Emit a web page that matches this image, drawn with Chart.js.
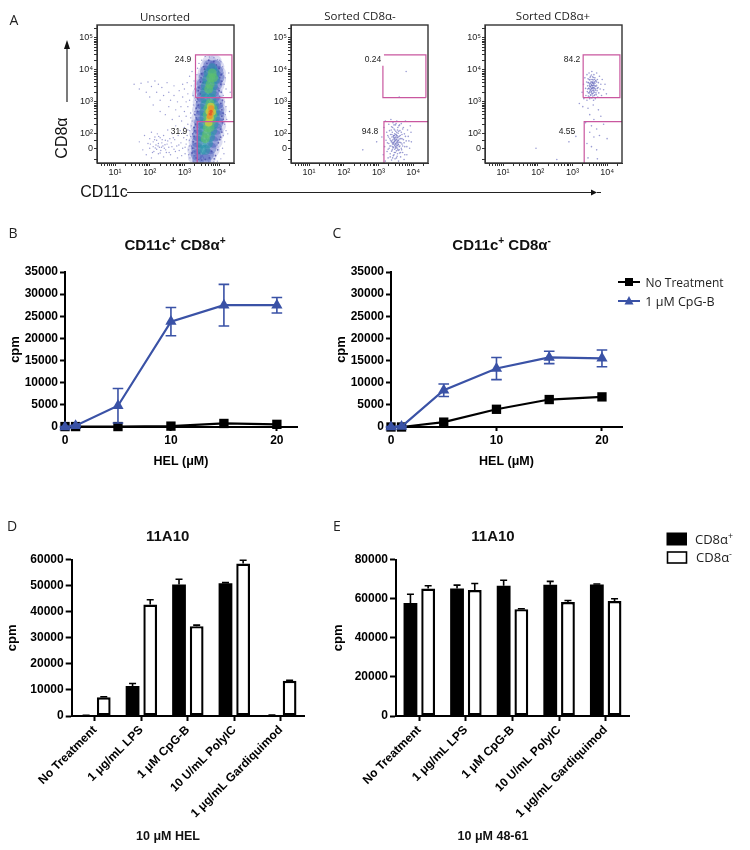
<!DOCTYPE html>
<html>
<head>
<meta charset="utf-8">
<title>CD8a sort and proliferation</title>
<script src="https://cdn.jsdelivr.net/npm/chart.js"></script>
<style>
  body { margin: 0; background: #fff; }
  #page { position: relative; width: 750px; height: 850px; overflow: hidden; filter: blur(0.3px); }
  #page canvas { position: absolute; }
  #page canvas.flowplot { filter: blur(0.35px); }
  #page svg { position: absolute; left: 0; top: 0; }
  .lbl { position: absolute; transform: translate(-50%, -50%); white-space: nowrap; color: #111; }
  .lbl sup { font-size: 68%; line-height: 0; }
  .bold { font-family: "Liberation Sans", sans-serif; font-weight: bold; }
  .soft { font-family: "Open Sans", sans-serif; color: #222; }
  .flow { font-family: "Liberation Sans", sans-serif; font-size: 8.5px; color: #222; }
</style>
</head>
<body>
<div id="page">
  <svg width="750" height="850">
    <!-- flow axis arrows -->
    <line x1="67" y1="102" x2="67" y2="46" stroke="#222" stroke-width="1.2"/>
    <polygon points="67,40 64,49 70,49" fill="#111"/>
    <line x1="127" y1="192.5" x2="592" y2="192.5" stroke="#222" stroke-width="1.2"/>
    <polygon points="597,192.5 591,189.5 591,195.5" fill="#111"/>
    <line x1="597" y1="192.5" x2="601" y2="192.5" stroke="#222" stroke-width="1"/>
    <!-- legend of panel C -->
    <line x1="618" y1="282" x2="640" y2="282" stroke="#000" stroke-width="2"/>
    <rect x="625" y="278" width="8" height="8" fill="#000"/>
    <line x1="618" y1="301" x2="640" y2="301" stroke="#3a52a6" stroke-width="2"/>
    <polygon points="629,296 624.5,304.5 633.5,304.5" fill="#3a52a6"/>
    <!-- legend of panel E -->
    <rect x="667" y="533" width="19.5" height="12" fill="#000" stroke="#000" stroke-width="1"/>
    <rect x="667.5" y="552" width="19" height="11" fill="#fff" stroke="#000" stroke-width="1.6"/>
  </svg>
</div>
<script>
// flow plots, axes in decades
const flowMinor = [0.3, 0.48, 0.6, 0.7, 0.78, 0.85, 0.9, 0.95];
const flowXLabels = { 1: '10¹', 2: '10²', 3: '10³', 4: '10⁴' };
const flowYLabels = { 1.53: '0', 2: '10²', 3: '10³', 4: '10⁴', 5: '10⁵' };

const unsortedSparse = [
  [1.7,1.75],[1.8,1.5],[1.85,1.95],[1.9,1.35],[1.95,1.7],[2.0,1.55],[2.0,1.85],[2.05,1.25],[2.05,2.05],[2.1,1.6],
  [2.1,1.75],[2.12,1.45],[2.15,1.9],[2.18,1.65],[2.2,1.52],[2.2,1.8],[2.22,2.0],[2.25,1.38],[2.25,1.7],[2.28,1.58],
  [2.3,1.88],[2.32,1.48],[2.35,1.72],[2.38,1.62],[2.4,1.28],[2.4,1.95],[2.42,1.55],[2.45,1.8],[2.48,1.42],[2.5,1.68],
  [2.52,2.12],[2.55,1.58],[2.58,1.85],[2.6,1.35],[2.62,1.72],[2.65,2.0],[2.7,1.52],[2.72,1.82],[2.75,2.25],[2.78,1.62],
  [2.8,1.25],[2.82,1.95],[2.85,1.48],[2.88,2.1],[2.9,1.72],[2.92,2.4],[2.95,1.55],[2.98,1.88],[3.0,2.2],[3.02,1.38],
  [3.05,1.68],[3.05,2.55],[3.08,1.95],[3.1,2.3],[3.12,1.5],[3.14,1.8],[3.15,2.1],[3.16,1.25],[3.18,2.5],[3.2,1.62],
  [1.55,3.55],[1.7,3.4],[1.75,3.58],[1.9,3.3],[1.95,3.62],[2.0,3.15],[2.05,3.48],[2.1,2.9],[2.15,3.65],[2.2,3.3],
  [2.25,3.55],[2.3,3.05],[2.3,2.7],[2.35,3.45],[2.4,3.2],[2.45,2.6],[2.5,3.6],[2.55,3.3],[2.55,2.85],[2.6,3.05],
  [2.65,2.45],[2.7,3.5],[2.7,3.2],[2.75,2.75],[2.8,3.0],[2.85,3.35],[2.85,2.55],[2.9,2.85],[2.95,3.15],[2.95,3.55],
  [3.0,2.7],[3.0,3.4],[3.05,3.0],[3.08,3.6],[3.1,2.85],[3.1,3.25],[3.15,3.8],[3.15,3.05],[3.18,2.65],[3.2,3.5],
  [3.22,2.4],[3.22,3.95],[3.25,3.2],[3.26,2.9],[3.28,3.65],[3.28,2.2],[3.3,3.4],[3.3,1.45],[3.3,2.7],[3.32,3.05],
  [3.25,1.15],[3.28,1.32],[3.32,1.7],[3.34,2.05],[3.36,2.45],[3.36,3.85],[3.38,4.05],[3.4,1.2],[3.42,4.2],[3.5,4.3],
  [3.6,4.42],[3.72,4.4],[3.85,4.38],[3.95,4.32],[4.05,4.25],[4.1,4.1],[4.12,3.9],[4.18,3.75],[4.15,3.55],[4.2,3.4],
  [4.12,3.2],[4.15,3.0],[4.2,2.85],[4.18,2.6],[4.22,2.45],[4.16,2.3],[4.2,2.1],[4.12,1.95],[4.16,1.75],[4.1,1.55],
  [4.14,1.38],[4.05,1.22],[3.95,1.15],[4.3,2.7],[4.32,3.3],[4.28,3.9],[4.02,4.3],[4.25,2.0],[3.85,1.12],[3.7,1.12],
  [2.02,1.68],[2.08,1.42],[2.14,1.82],[2.16,1.56],[2.24,1.62],[2.26,1.92],[2.3,1.4],[2.34,1.58],[2.36,1.82],[2.44,1.66],
  [2.46,1.5],[2.52,1.78],[2.56,1.42],[2.64,1.6],[2.68,1.88],[2.74,1.45],[2.84,1.65],[2.92,1.32],[2.96,2.02],[3.02,1.58],
  [3.06,1.82],[3.1,2.12],[3.12,1.35],[3.14,1.62],[3.18,1.92],[3.2,2.25],[3.22,1.42],[3.24,1.75],[3.26,2.05],[3.28,1.55]
];
const unsortedSpeck = [
  [3.55,4.1],[3.6,3.95],[3.65,4.2],[3.92,4.15],[3.98,3.95],[3.48,3.75],[3.54,3.6],[4.02,3.75],[4.05,3.55],[3.42,3.45],
  [3.46,3.25],[4.0,3.35],[4.02,3.15],[3.38,3.1],[3.4,2.9],[4.05,2.95],[4.08,2.75],[3.38,2.7],[3.34,2.5],[4.08,2.55],
  [4.1,2.35],[3.32,2.3],[3.3,2.1],[4.04,2.15],[4.05,1.9],[3.28,1.92],[3.26,1.75],[3.98,1.72],[3.96,1.5],[3.24,1.55],
  [3.22,1.4],[3.9,1.32],[3.86,1.22],[3.34,1.25],[3.5,1.18],[3.6,1.2],[3.72,1.25],[3.44,1.4],[3.78,1.45],[3.38,1.62],
  [3.7,4.3],[3.85,4.26],[3.58,4.02],[4.0,4.05],[3.5,3.88],[4.06,3.85],[3.46,3.62],[4.08,3.65],[3.4,3.35],[4.06,3.3],
  [3.36,3.0],[4.1,3.05],[3.34,2.8],[4.12,2.65],[3.3,2.6],[4.12,2.45],[3.28,2.2],[4.08,2.05],[3.24,2.0],[4.02,1.82]
];
const unsortedHalo = [
  [3.72,4.25],[3.88,4.25],[3.65,4.1],[3.95,4.1],[3.58,3.9],[4.0,3.9],[3.5,3.7],[4.0,3.7],[3.46,3.5],[3.95,3.5],
  [3.42,3.25],[3.92,3.25],[3.44,3.0],[3.98,3.0],[3.42,2.75],[4.02,2.75],[3.4,2.5],[4.02,2.5],[3.36,2.25],[4.0,2.25],
  [3.34,2.0],[3.95,2.0],[3.32,1.75],[3.9,1.75],[3.28,1.5],[3.82,1.5],[3.3,1.28],[3.72,1.28]
];
const unsortedBlue = [
  [3.72,4.13],[3.88,4.13],[3.62,3.95],[3.95,3.95],[3.58,3.75],[3.98,3.75],[3.52,3.55],[3.92,3.55],[3.5,3.35],[3.85,3.35],
  [3.52,3.15],[3.85,3.15],[3.5,2.95],[3.95,2.95],[3.48,2.75],[3.98,2.75],[3.48,2.55],[3.98,2.55],[3.45,2.35],[3.95,2.35],
  [3.42,2.15],[3.92,2.15],[3.4,1.95],[3.88,1.95],[3.38,1.75],[3.82,1.75],[3.36,1.55],[3.75,1.55],[3.36,1.35],[3.68,1.35],
  [3.4,1.2],[3.6,1.2]
];
const unsortedTeal = [
  [3.8,4.05],[3.7,3.9],[3.88,3.9],[3.66,3.7],[3.88,3.7],[3.62,3.5],[3.82,3.5],[3.6,3.3],[3.78,3.3],[3.6,3.1],
  [3.78,3.1],[3.6,2.9],[3.85,2.9],[3.58,2.7],[3.88,2.7],[3.58,2.5],[3.88,2.5],[3.56,2.3],[3.84,2.3],[3.55,2.1],
  [3.8,2.1],[3.52,1.9],[3.74,1.9],[3.5,1.7],[3.68,1.7],[3.5,1.5],[3.6,1.5]
];
const unsortedGreen = [
  [3.8,3.9],[3.76,3.75],[3.84,3.75],[3.74,3.55],[3.7,3.4],[3.74,2.95],[3.68,2.8],[3.82,2.8],[3.66,2.6],[3.82,2.6],
  [3.66,2.4],[3.78,2.4],[3.66,2.2],[3.74,2.2],[3.64,2.0],[3.6,1.85]
];
const unsortedYellow = [[3.76,2.85],[3.72,2.7],[3.8,2.68],[3.74,2.5],[3.7,2.35]];
const unsortedOrange = [[3.77,2.8],[3.76,2.65],[3.73,2.55]];
const unsortedRed = [[3.77,2.7],[3.75,2.62]];

const sortedNegDots = [
  [3.1,1.9],[3.14,1.35],[3.16,2.2],[3.18,1.6],[3.2,1.15],[3.2,2.4],[3.22,1.8],[3.24,2.05],[3.25,1.45],[3.27,1.95],
  [3.28,1.25],[3.3,2.3],[3.3,1.7],[3.31,1.55],[3.32,2.1],[3.33,1.85],[3.34,1.38],[3.35,1.98],[3.36,2.45],[3.36,1.62],
  [3.37,1.75],[3.38,1.18],[3.38,2.22],[3.39,1.9],[3.4,1.5],[3.4,2.05],[3.41,1.68],[3.42,1.82],[3.42,2.35],[3.43,1.32],
  [3.44,1.95],[3.44,1.58],[3.45,2.15],[3.45,1.74],[3.46,1.42],[3.46,1.86],[3.47,2.0],[3.47,1.64],[3.48,1.22],[3.48,1.78],
  [3.49,2.28],[3.49,1.9],[3.5,1.55],[3.5,1.7],[3.5,2.08],[3.51,1.84],[3.52,1.47],[3.52,1.96],[3.53,1.62],[3.53,2.4],
  [3.54,1.76],[3.54,1.3],[3.55,2.12],[3.55,1.88],[3.56,1.52],[3.57,1.68],[3.57,2.02],[3.58,1.8],[3.58,1.15],[3.59,2.25],
  [3.6,1.6],[3.6,1.92],[3.61,1.4],[3.62,1.74],[3.62,2.1],[3.64,1.85],[3.64,1.28],[3.66,1.55],[3.66,2.32],[3.68,1.98],
  [3.68,1.68],[3.7,1.42],[3.7,2.15],[3.72,1.82],[3.74,1.2],[3.75,2.0],[3.76,1.6],[3.78,2.4],[3.8,1.78],[3.82,1.35],
  [3.84,2.12],[3.86,1.92],[3.9,1.55],[3.92,2.25],[3.95,1.75],[2.95,1.75],[2.55,1.5],[3.8,3.95],[3.6,3.15],
  [3.43,1.72],[3.47,1.82],[3.51,1.66],[3.44,1.88],[3.53,1.9],[3.41,1.6],[3.49,1.6],[3.46,1.95],[3.55,1.72],[3.39,1.78],
  [3.26,1.72],[3.28,1.52],[3.29,1.9],[3.33,1.62],[3.34,1.28],[3.35,1.8],[3.37,2.12],[3.38,1.46],[3.39,1.98],[3.4,1.72],
  [3.41,1.25],[3.41,2.2],[3.42,1.56],[3.43,1.92],[3.44,1.68],[3.45,1.35],[3.45,2.28],[3.46,1.76],[3.47,1.52],[3.47,2.12],
  [3.48,1.88],[3.48,1.68],[3.49,1.42],[3.5,1.98],[3.5,1.8],[3.51,1.58],[3.51,2.32],[3.52,1.72],[3.52,1.25],[3.53,2.04],
  [3.53,1.82],[3.54,1.56],[3.54,1.94],[3.55,1.64],[3.55,1.38],[3.56,1.78],[3.56,2.2],[3.57,1.9],[3.57,1.48],[3.58,1.66],
  [3.58,2.08],[3.59,1.74],[3.6,1.5],[3.6,1.84],[3.61,2.28],[3.62,1.62],[3.63,1.95],[3.64,1.42],[3.65,1.72],[3.66,2.05],
  [3.67,1.5],[3.68,1.85],[3.7,1.62],[3.72,2.2],[3.74,1.72],[3.76,1.35],[3.78,1.92],[3.82,1.6],[3.88,1.78],[3.94,2.05]
];
const sortedPosDots = [
  [3.28,3.3],[3.32,3.55],[3.33,3.1],[3.36,3.75],[3.38,3.42],[3.39,3.2],[3.41,3.62],[3.42,3.85],[3.42,3.05],[3.43,3.32],
  [3.44,3.5],[3.45,3.72],[3.46,3.18],[3.47,3.42],[3.47,3.6],[3.48,3.9],[3.49,3.28],[3.49,3.52],[3.5,3.68],[3.5,3.1],
  [3.51,3.38],[3.52,3.8],[3.52,3.58],[3.53,3.2],[3.53,3.46],[3.54,3.7],[3.55,3.32],[3.55,3.55],[3.56,3.95],[3.56,3.12],
  [3.57,3.62],[3.57,3.42],[3.58,3.25],[3.58,3.78],[3.59,3.5],[3.6,3.35],[3.6,3.68],[3.61,3.05],[3.61,3.58],[3.62,3.85],
  [3.62,3.45],[3.63,3.2],[3.64,3.62],[3.64,3.3],[3.65,3.75],[3.66,3.5],[3.66,3.1],[3.67,3.4],[3.68,3.65],[3.69,3.22],
  [3.7,3.9],[3.7,3.52],[3.71,3.35],[3.72,3.7],[3.73,3.15],[3.74,3.45],[3.75,3.6],[3.76,3.28],[3.78,3.8],[3.8,3.4],
  [3.82,3.55],[3.84,3.2],[3.86,3.7],[3.9,3.38],[3.94,3.55],[3.98,3.25],[3.5,3.48],[3.56,3.52],[3.6,3.44],[3.54,3.4],
  [3.58,3.6],[3.52,3.36],[3.62,3.55],[3.48,3.42],[3.2,2.95],[3.3,2.85],[3.45,2.8],[3.6,2.9],[3.75,2.75],[3.5,2.6],
  [3.62,2.45],[3.82,2.55],[3.38,2.35],[3.55,2.25],[3.7,2.15],[3.9,2.3],[3.5,2.05],[3.62,1.9],[3.78,1.95],[3.42,1.7],
  [3.55,1.6],[3.7,1.5],[4.0,1.85],[3.45,1.25],[3.72,1.22],[3.1,1.92],[2.9,1.75],[1.95,1.55],[2.55,1.2],
  [3.44,3.4],[3.45,3.6],[3.46,3.28],[3.48,3.7],[3.49,3.15],[3.5,3.56],[3.5,3.32],[3.51,3.76],[3.52,3.48],[3.52,3.22],
  [3.53,3.62],[3.54,3.3],[3.54,3.52],[3.55,3.42],[3.55,3.84],[3.56,3.62],[3.56,3.25],[3.57,3.5],[3.57,3.36],[3.58,3.7],
  [3.58,3.44],[3.59,3.58],[3.59,3.18],[3.6,3.52],[3.6,3.28],[3.61,3.76],[3.61,3.4],[3.62,3.62],[3.62,3.34],[3.63,3.5],
  [3.64,3.42],[3.64,3.7],[3.65,3.22],[3.65,3.58],[3.66,3.36],[3.67,3.66],[3.68,3.48],[3.68,3.28],[3.7,3.62],[3.72,3.42]
];

// gates as left, bottom, right, top in decades
const gateUpperLeft = [3.32, 3.13, 4.37, 4.47];
const gateLowerLeft = [3.37, 1.09, 4.43, 2.38];
const gateUpperMid = [3.13, 3.13, 4.37, 4.47];
const gateLowerMid = [3.16, 1.09, 4.43, 2.38];
const gateUpperRight = [3.31, 3.13, 4.37, 4.47];
const gateLowerRight = [3.34, 1.09, 4.43, 2.38];

// dose response panels
const doses = [0, 1, 5, 10, 15, 20];
const plusNone = [100, 100, 100, 200, 800, 600];
const plusCpg = [0, 300, 4800, 23800, 27500, 27500];
const plusCpgErr = [100, 100, 3900, 3200, 4700, 1750];
const minusNone = [0, 0, 1100, 4000, 6200, 6800];
const minusCpg = [0, 100, 8300, 13200, 15700, 15500];
const minusCpgErr = [100, 100, 1400, 2500, 1400, 1900];

// bar panels
const treatments = ['No Treatment', '1 μg/mL LPS', '1 μM CpG-B', '10 U/mL PolyIC', '1 μg/mL Gardiquimod'];
const helPlus = [200, 11500, 50500, 51000, 300];
const helPlusErr = [50, 1000, 2000, 200, 50];
const helMinus = [7200, 42800, 34500, 58500, 13500];
const helMinusErr = [200, 1800, 400, 1300, 200];
const pepPlus = [57800, 65300, 66700, 67200, 67300];
const pepPlusErr = [4500, 1700, 2800, 1700, 300];
const pepMinus = [65200, 64500, 54700, 58300, 58800];
const pepMinusErr = [1500, 3300, 200, 800, 1200];

const page = document.getElementById('page');
const sans = '"Liberation Sans", sans-serif';

function addLabel(html, x, y, cls, style) {
  const el = document.createElement('div');
  el.className = 'lbl ' + cls;
  el.innerHTML = html;
  el.style.left = x + 'px';
  el.style.top = y + 'px';
  if (style) el.style.cssText += style;
  page.appendChild(el);
}

// chart box is given on the page, area is where the axes must sit
function addChart(box, area, config, cls) {
  const c = document.createElement('canvas');
  c.width = box.w;
  c.height = box.h;
  c.style.left = box.x + 'px';
  c.style.top = box.y + 'px';
  if (cls) c.className = cls;
  page.appendChild(c);
  config.options.responsive = false;
  config.options.animation = false;
  config.options.layout = { padding: { top: area.top - box.y, right: box.x + box.w - area.right, left: 0, bottom: 0 } };
  config.options.scales.x.afterFit = s => { s.height = box.y + box.h - area.bottom; };
  config.options.scales.y.afterFit = s => { s.width = area.left - box.x; };
  config.options.plugins = { legend: { display: false }, tooltip: { enabled: false } };
  return new Chart(c, config);
}

// error bars, Chart.js has none of its own
const errorBars = {
  id: 'errorBars',
  afterDatasetsDraw(chart) {
    const y = chart.scales.y, ctx = chart.ctx;
    chart.data.datasets.forEach((ds, i) => {
      if (!ds.errors) return;
      chart.getDatasetMeta(i).data.forEach((el, j) => {
        const v = ds.data[j], e = ds.errors[j];
        const top = y.getPixelForValue(v + e);
        const low = ds.errDown ? y.getPixelForValue(v - e) : el.y;
        ctx.save();
        ctx.strokeStyle = ds.errColor;
        ctx.lineWidth = ds.errWidth;
        ctx.beginPath();
        ctx.moveTo(el.x, top);
        ctx.lineTo(el.x, low);
        ctx.moveTo(el.x - ds.errCap, top);
        ctx.lineTo(el.x + ds.errCap, top);
        if (ds.errDown) {
          ctx.moveTo(el.x - ds.errCap, low);
          ctx.lineTo(el.x + ds.errCap, low);
        }
        ctx.stroke();
        ctx.restore();
      });
    });
  }
};

const frame = {
  id: 'frame',
  afterDraw(chart) {
    const a = chart.chartArea, ctx = chart.ctx;
    ctx.save();
    ctx.strokeStyle = '#333';
    ctx.lineWidth = 1.4;
    ctx.strokeRect(a.left, a.top, a.right - a.left, a.bottom - a.top);
    ctx.restore();
  }
};

const toPts = arr => arr.map(p => ({ x: p[0], y: p[1] }));

function gateSet(points) {
  return { data: toPts(points), showLine: true, pointRadius: 0, borderColor: '#c9579f', borderWidth: 1.2, order: 0, clip: false };
}
function box(g) {
  return [[g[0], g[1]], [g[2], g[1]], [g[2], g[3]], [g[0], g[3]], [g[0], g[1]]];
}
function openTop(g) {
  return [[g[0], g[3]], [g[0], g[1]], [g[2], g[1]]];
}
function lowerGate(g) {
  return [[g[0], g[1]], [g[0], g[3]], [g[2], g[3]]];
}
function dots(points, color, radius, order) {
  return { data: toPts(points), pointRadius: radius, pointBackgroundColor: color, pointBorderWidth: 0, showLine: false, order: order };
}

function decadeTicks(from, to, extra) {
  const out = [].concat(extra);
  for (let d = from; d <= to; d++) {
    out.push(d);
    flowMinor.forEach(m => out.push(d + m));
  }
  return out;
}

function flowChart(left, datasets) {
  const xTicks = decadeTicks(1, 3, [0.6, 0.7, 0.78, 0.85, 0.9, 0.95]).concat([4, 4.3]);
  const yTicks = decadeTicks(2, 4, [1.2, 1.53, 1.8]).concat([5, 5.3]);
  return addChart({ x: left - 27, y: 18, w: 175, h: 162 }, { left: left, top: 25, right: left + 137, bottom: 163 }, {
    type: 'scatter',
    data: { datasets: datasets },
    plugins: [frame],
    options: {
      scales: {
        x: {
          type: 'linear', min: 0.48, max: 4.43,
          afterBuildTicks: s => { s.ticks = xTicks.map(v => ({ value: v })); },
          ticks: { callback: v => flowXLabels[v] || '', autoSkip: false, maxRotation: 0, minRotation: 0, padding: 1, font: { family: sans, size: 9 }, color: '#222' },
          grid: { drawOnChartArea: false, tickLength: 3, color: '#333' },
          border: { color: '#333' }
        },
        y: {
          type: 'linear', min: 1.09, max: 5.4,
          afterBuildTicks: s => { s.ticks = yTicks.map(v => ({ value: v })); },
          ticks: { callback: v => flowYLabels[v] || '', autoSkip: false, padding: 1, font: { family: sans, size: 9 }, color: '#222' },
          grid: { drawOnChartArea: false, tickLength: 3, color: '#333' },
          border: { color: '#333' }
        }
      }
    }
  }, 'flowplot');
}

const dotBlue = 'rgba(92,96,184,0.62)';
flowChart(97, [
  gateSet(box(gateUpperLeft)),
  gateSet(lowerGate(gateLowerLeft)),
  dots(unsortedRed, 'rgba(222,74,44,0.7)', 1.6, 1),
  dots(unsortedOrange, 'rgba(236,142,44,0.8)', 3, 2),
  dots(unsortedYellow, 'rgba(206,204,62,0.8)', 3.8, 3),
  dots(unsortedGreen, 'rgba(92,190,112,0.68)', 4.5, 4),
  dots(unsortedTeal, 'rgba(40,148,170,0.55)', 5, 5),
  dots(unsortedSpeck, 'rgba(70,74,170,0.75)', 0.9, 6),
  dots(unsortedBlue, 'rgba(62,86,184,0.42)', 6, 7),
  dots(unsortedHalo, 'rgba(118,122,206,0.26)', 7, 8),
  dots(unsortedSparse, dotBlue, 0.7, 9)
]);
flowChart(291, [
  gateSet(openTop([gateUpperMid[0], gateUpperMid[1], gateUpperMid[2], 4.13])),
  gateSet([[gateUpperMid[2], gateUpperMid[1]], [gateUpperMid[2], gateUpperMid[3]], [3.16, gateUpperMid[3]]]),
  gateSet(lowerGate(gateLowerMid)),
  dots(sortedNegDots, dotBlue, 0.8, 1)
]);
flowChart(485, [
  gateSet(box(gateUpperRight)),
  gateSet(lowerGate(gateLowerRight)),
  dots(sortedPosDots, dotBlue, 0.8, 1)
]);

function lineSet(data, color, style, radius, order, errors) {
  const ds = {
    data: data, borderColor: color, backgroundColor: color, borderWidth: 2.2, tension: 0,
    pointStyle: style, pointRadius: radius, pointBorderWidth: 0, order: order, clip: false
  };
  if (errors) Object.assign(ds, { errors: errors, errDown: true, errColor: color, errWidth: 1.6, errCap: 5.3 });
  return ds;
}

function lineChart(left, right, datasets) {
  addChart({ x: left - 57, y: 255, w: right - left + 100, h: 214 }, { left: left, top: 272, right: right, bottom: 427 }, {
    type: 'line',
    data: { labels: doses, datasets: datasets },
    plugins: [errorBars],
    options: {
      scales: {
        x: {
          type: 'linear', min: 0, max: 21.9,
          ticks: { stepSize: 10, includeBounds: false, maxRotation: 0, padding: 2, color: '#000', font: { family: sans, size: 12, weight: 'bold' } },
          grid: { drawOnChartArea: false, tickLength: 4, tickWidth: 2, tickColor: '#000' },
          border: { color: '#000', width: 2 },
          title: { display: true, text: 'HEL (μM)', color: '#000', padding: 0, font: { family: sans, size: 12.5, weight: 'bold' } }
        },
        y: {
          min: 0, max: 35000,
          ticks: { stepSize: 5000, callback: v => String(v), padding: 2, color: '#000', font: { family: sans, size: 12, weight: 'bold' } },
          grid: { drawOnChartArea: false, tickLength: 5, tickWidth: 2, tickColor: '#000' },
          border: { color: '#000', width: 2 },
          title: { display: true, text: 'cpm', color: '#000', padding: 0, font: { family: sans, size: 13, weight: 'bold' } }
        }
      }
    }
  });
}

const cpgBlue = '#3a52a6';

lineChart(65, 297, [
  lineSet(plusCpg, cpgBlue, 'triangle', 6.5, 1, plusCpgErr),
  lineSet(plusNone, '#000', 'rect', 6.6, 2)
]);
lineChart(390.5, 622, [
  lineSet(minusCpg, cpgBlue, 'triangle', 6.5, 1, minusCpgErr),
  lineSet(minusNone, '#000', 'rect', 6.6, 2)
]);

function barChart(boxLeft, left, right, yMax, yStep, plus, plusErr, minus, minusErr) {
  addChart({ x: boxLeft, y: 545, w: right - boxLeft + 20, h: 290 }, { left: left, top: 559.7, right: right, bottom: 716 }, {
    type: 'bar',
    data: {
      labels: treatments,
      datasets: [
        { data: plus, backgroundColor: '#000', borderWidth: 0, categoryPercentage: 0.76, barPercentage: 0.78,
          errors: plusErr, errColor: '#000', errWidth: 1.6, errCap: 3.5 },
        { data: minus, backgroundColor: '#fff', borderColor: '#000', borderWidth: 2.4, borderSkipped: false, categoryPercentage: 0.76, barPercentage: 0.78,
          errors: minusErr, errColor: '#000', errWidth: 1.6, errCap: 3.5 }
      ]
    },
    plugins: [errorBars],
    options: {
      scales: {
        x: {
          ticks: { autoSkip: false, minRotation: 45, maxRotation: 45, padding: 2, color: '#000', font: { family: sans, size: 12, weight: 'bold' } },
          grid: { offset: false, drawOnChartArea: false, tickLength: 5, tickWidth: 2, tickColor: '#000' },
          border: { color: '#000', width: 2 }
        },
        y: {
          min: 0, max: yMax,
          ticks: { stepSize: yStep, callback: v => String(v), padding: 2, color: '#000', font: { family: sans, size: 12, weight: 'bold' } },
          grid: { drawOnChartArea: false, tickLength: 6, tickWidth: 2, tickColor: '#000' },
          border: { color: '#000', width: 2 },
          title: { display: true, text: 'cpm', color: '#000', padding: 0, font: { family: sans, size: 13, weight: 'bold' } }
        }
      }
    }
  });
}

barChart(5, 71.7, 304.7, 60000, 10000, helPlus, helPlusErr, helMinus, helMinusErr);
barChart(331, 396, 629.5, 80000, 20000, pepPlus, pepPlusErr, pepMinus, pepMinusErr);

// text around the plots
addLabel('A', 14, 19, 'soft', 'font-size:14px');
addLabel('B', 13, 232, 'soft', 'font-size:14px');
addLabel('C', 337, 232, 'soft', 'font-size:14px');
addLabel('D', 12, 525, 'soft', 'font-size:14px');
addLabel('E', 337, 525, 'soft', 'font-size:14px');

addLabel('Unsorted', 165, 16, 'soft', 'font-size:11.5px');
addLabel('Sorted CD8α-', 360, 15, 'soft', 'font-size:11.5px');
addLabel('Sorted CD8α+', 553, 15, 'soft', 'font-size:11.5px');
addLabel('24.9', 183, 59, 'flow');
addLabel('31.9', 179, 131, 'flow');
addLabel('0.24', 373, 59, 'flow');
addLabel('94.8', 370, 131, 'flow');
addLabel('84.2', 572, 59, 'flow');
addLabel('4.55', 567, 131, 'flow');
addLabel('CD8α', 62, 138, '', 'font-family:' + sans + ';font-size:16px;transform:translate(-50%,-50%) rotate(-90deg)');
addLabel('CD11c', 104, 192, '', 'font-family:' + sans + ';font-size:16px');

addLabel('CD11c<sup>+</sup> CD8α<sup>+</sup>', 175, 244, 'bold', 'font-size:15px');
addLabel('CD11c<sup>+</sup> CD8α<sup>-</sup>', 501.7, 244, 'bold', 'font-size:15px');
addLabel('11A10', 167.7, 535, 'bold', 'font-size:15px');
addLabel('11A10', 493, 535, 'bold', 'font-size:15px');
addLabel('10 μM HEL', 168, 836, 'bold', 'font-size:12.5px');
addLabel('10 μM 48-61', 493, 836, 'bold', 'font-size:12.5px');

addLabel('No Treatment', 684.5, 282, 'soft', 'font-size:12px');
addLabel('1 μM CpG-B', 680, 301, 'soft', 'font-size:12.5px');
addLabel('CD8α<sup>+</sup>', 714, 539, 'soft', 'font-size:13px');
addLabel('CD8α<sup>-</sup>', 714, 557, 'soft', 'font-size:13px');
</script>
</body>
</html>
